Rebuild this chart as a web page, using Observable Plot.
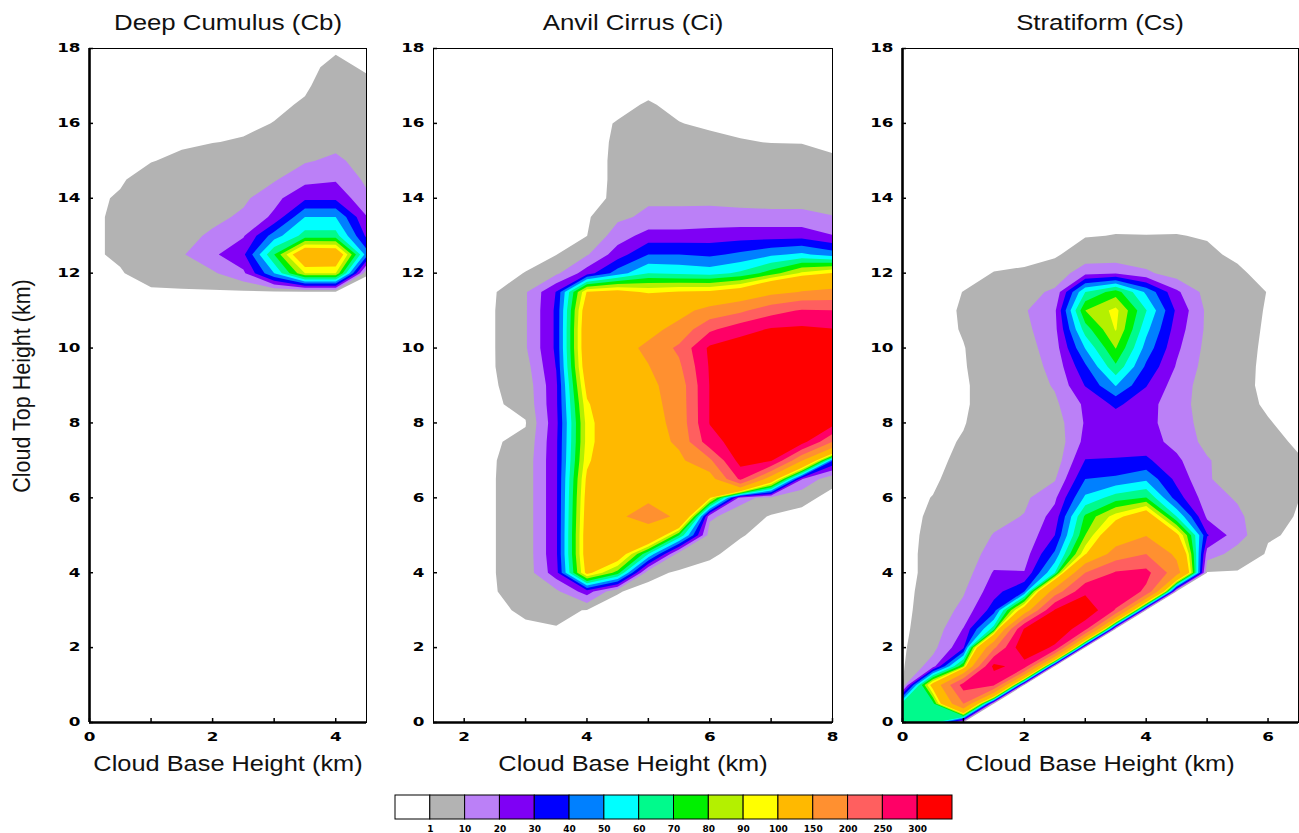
<!DOCTYPE html>
<html>
<head>
<meta charset="utf-8">
<script src="https://cdn.jsdelivr.net/npm/d3@7"></script>
<script src="https://cdn.jsdelivr.net/npm/@observablehq/plot@0.6"></script>
<style>
  body { margin: 0; background: #fff; }
  #chart { position: relative; width: 1299px; height: 833px; overflow: hidden; background: #fff;
           font-family: "Liberation Sans", Arial, Helvetica, sans-serif; }
  #chart svg { position: absolute; top: 0; }
  .t { position: absolute; white-space: nowrap; font-size: 21.5px; line-height: 21.5px; color: #111; }
</style>
</head>
<body>
<div id="chart"></div>
<script>
// ---------------- data ----------------
const thresholds = [1, 10, 20, 30, 40, 50, 60, 70, 80, 90, 100, 150, 200, 250, 300];
const binColors = ["#ffffff", "#b3b3b3", "#bb80f7", "#7f00f5", "#0000ff", "#0080ff", "#00ffff", "#00fa8c",
                   "#00f000", "#b4f000", "#ffff00", "#ffb900", "#ff9030", "#ff5f5f", "#ff0066", "#ff0000"];
const legendBins = [0, ...thresholds];
const yTicks = [0, 2, 4, 6, 8, 10, 12, 14, 16, 18];
const cbXTicks = [0, 2, 4], ciXTicks = [2, 4, 6, 8], csXTicks = [0, 2, 4, 6];
const cbMinor = [0, 1, 2, 3, 4], ciMinor = [2, 3, 4, 5, 6, 7, 8], csMinor = [0, 1, 2, 3, 4, 5, 6];
const titles = ["Deep Cumulus (Cb)", "Anvil Cirrus (Ci)", "Stratiform (Cs)"];
const xLabel = "Cloud Base Height (km)";
const yLabel = "Cloud Top Height (km)";

// Deep Cumulus: cloud base (columns) x cloud top (rows, bottom -> top)
const cbX = [0, 0.5, 1, 1.5, 2, 2.5, 3, 3.5, 4, 4.5];
const cbY = [11, 11.5, 12, 12.5, 13, 13.5, 14, 14.5, 15, 15.5, 16, 16.5, 17, 17.5, 18];
const cbCols = [
  [0,0,0,0,0,0,0,0,0,0,0,0,0,0,0],
  [0,0,0.5,2,2,2,1.5,0.5,0,0,0,0,0,0,0],
  [0,0,4,5,5,5,5,3,0.8,0,0,0,0,0,0],
  [0,0,6,9,6,5,5,4,2,0.3,0,0,0,0,0],
  [0,0,8.5,18,12,7,6,5,3,0.9,0,0,0,0,0],
  [0,0,18,28,19,12,8,6,4.5,1.3,0.3,0,0,0,0],
  [0,0,50,70,45,22,17,9,6,3,1.1,0.3,0,0,0],
  [0,0,90,120,64,50,28,17,9,7,5,1.4,0.5,0,0],
  [0,0,90,118,64,50,28,19,12,7,5,4,3,2,0.5],
  [0,0,1.2,45,28,20.5,12,8,6,5,4,3,2,0.5,0]
];

// Anvil Cirrus
const ciX = [2, 2.5, 3, 3.5, 4, 4.5, 5, 5.5, 6, 6.5, 7, 7.5, 8];
const ciY = [1.5, 2, 2.5, 3, 3.5, 4, 4.5, 5, 5.5, 6, 6.5, 7, 7.5, 8, 8.5, 9, 9.5, 10, 10.5, 11, 11.5,
             12, 12.5, 13, 13.5, 14, 14.5, 15, 15.5, 16, 16.5, 17, 17.5];
const ciCols = [
  [0,0,0,0,0,0,0,0,0,0,0,0,0,0,0,0,0,0,0,0,0,0,0,0,0,0,0,0,0,0,0,0,0],
  [0,0,0,0.4,0.9,0.9,0.9,0.9,0.9,0.9,0.9,0.8,0.5,0,0.2,0.6,0.9,0.9,0.9,0.9,0.5,0,0,0,0,0,0,0,0,0,0,0,0],
  [0,0,0.5,1.5,2,4,4,4,4,4,4,4,2.5,0.6,3,4,6,9,9,9,9,1.1,0,0,0,0,0,0,0,0,0,0,0],
  [0,0,0.9,1.5,8,26,28,28,28,28,28,28,28,27,28,28,30.5,32,32,32,30.5,8,0.8,0,0,0,0,0,0,0,0,0,0],
  [0,0,0,0.9,25,105,110,110,108,106,103,97,94,94,98,105,112,115,115,112,101,25,9,0.9,0,0,0,0,0,0,0,0,0],
  [0,0,0,0,1.2,75,115,130,146,135,125,120,118,118,118,122,128,130,125,120,105,45,25,15,8,1.6,1.5,1.5,1.4,1.2,0.2,0,0],
  [0,0,0,0,0,2,60,135,160,146,132,128,128,130,135,140,148,160,135,125,98,60,40,24,12,8.5,5.5,4.5,3.5,2.5,1.3,0,0],
  [0,0,0,0,0,0.5,4,70,146,125,130,140,158,165,168,170,190,210,165,135,101,58,40,24,12,8.5,5,4,2.5,1.1,0.2,0,0],
  [0,0,0,0,0,0,1.5,5,12,102,125,190,280,302,302,302,305,310,240,165,102,56,38,25,13,8,5,3.5,1.8,0.5,0,0,0],
  [0,0,0,0,0,0,0,1.2,4,14,260,320,325,330,335,340,340,330,280,190,110,62,42,26,13,7,4.5,3.5,1.2,0.2,0,0,0],
  [0,0,0,0,0,0,0,0,0.5,6,120,305,330,340,350,355,355,345,305,230,135,75,48,26,13,6,4,3,0.9,0,0,0,0],
  [0,0,0,0,0,0,0,0,0,2,20.5,152,320,345,355,360,360,350,310,255,152,92,52,26,13,6,4,3,0.8,0,0,0,0],
  [0,0,0,0,0,0,0,0,0,0,2,41,202,320,345,350,350,340,302,252,160,101,45,20.5,10.5,5,3.5,1.5,0.3,0,0,0,0]
];

// Stratiform
const csX = [0, 0.5, 1, 1.5, 2, 2.5, 3, 3.5, 4, 4.5, 5, 5.5, 6, 6.5];
const csY = [0, 0.5, 1, 1.5, 2, 2.5, 3, 3.5, 4, 4.5, 5, 5.5, 6, 6.5, 7, 7.5, 8, 8.5, 9, 9.5, 10, 10.5,
             11, 11.5, 12, 12.5, 13, 13.5];
const csCols = [
  [65,65,0.5,0,0,0,0,0,0,0,0,0,0,0,0,0,0,0,0,0,0,0,0,0,0,0,0,0],
  [65,65,110,15,7,4,3,2.5,2,2,1.8,1.5,1.1,0.5,0,0,0,0,0,0,0,0,0,0,0,0,0,0],
  [0,200,270,80,28,20.5,13,9,5,4.5,4,3.5,3,2.5,2,1.3,0.8,0.6,0.6,0.8,0.9,1.2,1.3,1.05,0,0,0,0],
  [0,0,255,315,190,65,35,26,21,14,10.5,7,6,5,4,3.5,3,2.5,2.5,2.5,2.5,2.5,2.5,2,1.1,0,0,0],
  [0,0,0,275,345,305,115,40,20.5,15,12,10.5,8,7,6,5,4,4,4,5,6,7.5,9,6,1.5,0,0,0],
  [0,0,0,0,290,345,305,170,60,42,30,24,18,9,4,3,5,8,11,13,15,17,18,12,3,0.5,0,0],
  [0,0,0,0,0,265,340,290,200,98,80,72,52,40,30.5,23,21,22,30.5,38,50.5,65,80,60,17,3,0.8,0],
  [0,0,0,0,0,0,245,295,255,170,120,95,65,42,31,24,24,32,50.5,68,80.5,91,93,75,19,3,1.1,0],
  [0,0,0,0,0,0,0,240,265,200,148,115,70.5,48,32,24,23,24,30.5,38,46,53,60.5,48,12,3,1.05,0],
  [0,0,0,0,0,0,0,0,170,140,105,60,35,27,22,17,15,14,15,19,22,25,28,22,5,2.5,1.1,0],
  [0,0,0,0,0,0,0,0,0.5,15,31,18,14,11,11,7,6,5.5,5.5,6,7,8,8,6,2.5,1.5,0.8,0],
  [0,0,0,0,0,0,0,0,0.3,6,14,12,9,5,4,3,2.5,2,1.8,1.9,2,2.2,2.5,2.5,1.5,0.5,0,0],
  [0,0,0,0,0,0,0,0,0,0.3,1.5,3,3,3,2.5,2,1.2,0.6,0.4,0.4,0.5,0.6,0.7,0.9,0,0,0,0],
  [0,0,0,0,0,0,0,0,0,0,0.3,0.6,1.1,2,1.3,0.5,0,0,0,0,0,0,0,0,0,0,0,0]
];

// ---------------- helpers ----------------
function grid(xs, ys, cols) {
  const vals = [];
  for (let r = ys.length - 1; r >= 0; r--) for (let c = 0; c < xs.length; c++) vals.push(cols[c][r]);
  const hx = (xs[1] - xs[0]) / 2, hy = (ys[1] - ys[0]) / 2;
  return {vals, width: xs.length, height: ys.length,
          x1: xs[0] - hx, x2: xs[xs.length - 1] + hx, y1: ys[ys.length - 1] + hy, y2: ys[0] - hy};
}

function stretch(svg, k) {
  svg.querySelectorAll('[aria-label$="tick label"] text').forEach(t => {
    const tr = t.getAttribute("transform");
    if (tr) t.setAttribute("transform", tr + ` scale(${k},1)`);
    else {
      const x = t.getAttribute("x") || 0, y = t.getAttribute("y") || 0;
      t.removeAttribute("x"); t.removeAttribute("y");
      t.setAttribute("transform", `translate(${x},${y}) scale(${k},1)`);
    }
  });
}

const H = 760, MT = 48, MB = 38;
const chart = document.getElementById("chart");

function panel(g, o) {
  const innerW = o.width - o.ml - o.mr, innerH = H - MT - MB;
  const svg = Plot.plot({
    width: o.width, height: H,
    marginLeft: o.ml, marginRight: o.mr, marginTop: MT, marginBottom: MB,
    x: {domain: o.xDomain},
    y: {domain: [0, 18]},
    color: {type: "threshold", domain: thresholds, range: binColors},
    style: {fontFamily: "'DejaVu Sans', sans-serif", fontSize: "12px", fontWeight: "bold",
            color: "#000", background: "transparent", overflow: "visible"},
    marks: [
      Plot.contour(g.vals, {width: g.width, height: g.height, x1: g.x1, x2: g.x2, y1: g.y1, y2: g.y2,
                            fill: Plot.identity, thresholds, clip: true}),
      Plot.tickX(o.minor, {x: d => d, insetTop: innerH - 4, stroke: "#000", strokeWidth: 1.5}),
      Plot.tickY(yTicks, {y: d => d, insetRight: innerW - 4, stroke: "#000", strokeWidth: 1.5}),
      Plot.frame({stroke: "#000", strokeWidth: 1}),
      o.thickLeft ? Plot.ruleX([o.xDomain[0]], {stroke: "#000", strokeWidth: 2.6}) : null,
      Plot.ruleY([0], {stroke: "#000", strokeWidth: 2.6}),
      Plot.axisX(o.xTicks, {tickSize: 0, tickPadding: 10, label: null}),
      Plot.axisY(yTicks, {tickSize: 0, tickPadding: 9, label: null})
    ]
  });
  stretch(svg, 1.4);
  svg.style.left = o.left + "px";
  chart.appendChild(svg);
}

panel(grid(cbX, cbY, cbCols), {left: 0, width: 380, ml: 89, mr: 14, xDomain: [0, 4.5],
      xTicks: cbXTicks, minor: cbMinor, thickLeft: true});
panel(grid(ciX, ciY, ciCols), {left: 380, width: 460, ml: 53, mr: 8, xDomain: [1.5, 8],
      xTicks: ciXTicks, minor: ciMinor, thickLeft: false});
panel(grid(csX, csY, csCols), {left: 845, width: 454, ml: 57, mr: 1, xDomain: [0, 6.5],
      xTicks: csXTicks, minor: csMinor, thickLeft: true});

// legend colour bar
const leg = Plot.plot({
  width: 580, height: 50, marginLeft: 10, marginRight: 13, marginTop: 10, marginBottom: 16,
  x: {domain: [0, 16], axis: null},
  y: {domain: [0, 1], axis: null},
  color: {type: "threshold", domain: thresholds, range: binColors},
  style: {fontFamily: "'DejaVu Sans', sans-serif", background: "transparent", overflow: "visible"},
  marks: [
    Plot.rect(legendBins, {x1: (d, i) => i, x2: (d, i) => i + 1, y1: 0, y2: 1, fill: d => d,
                           stroke: "#000", strokeWidth: 1}),
    Plot.text(thresholds, {x: (d, i) => i + 1, y: 0, text: d => String(d), dy: 10,
                           fontSize: 9, fontWeight: "bold", fill: "#000"})
  ]
});
leg.style.left = "385px";
leg.style.top = "785px";
chart.appendChild(leg);

// titles and axis labels
function addText(txt, cx, top, transform) {
  const d = document.createElement("div");
  d.className = "t";
  d.textContent = txt;
  d.style.left = cx + "px";
  d.style.top = top + "px";
  d.style.transform = transform;
  chart.appendChild(d);
}
const centers = [227.5, 632.5, 1100];
centers.forEach((cx, i) => {
  addText(titles[i], cx, 12.8, "translateX(-50%) scaleX(1.2)");
  addText(xLabel, cx, 753.5, "translateX(-50%) scaleX(1.18)");
});
addText(yLabel, 22.5, 386, "translate(-50%,-50%) rotate(-90deg) scaleY(1.15)");
</script>
</body>
</html>
